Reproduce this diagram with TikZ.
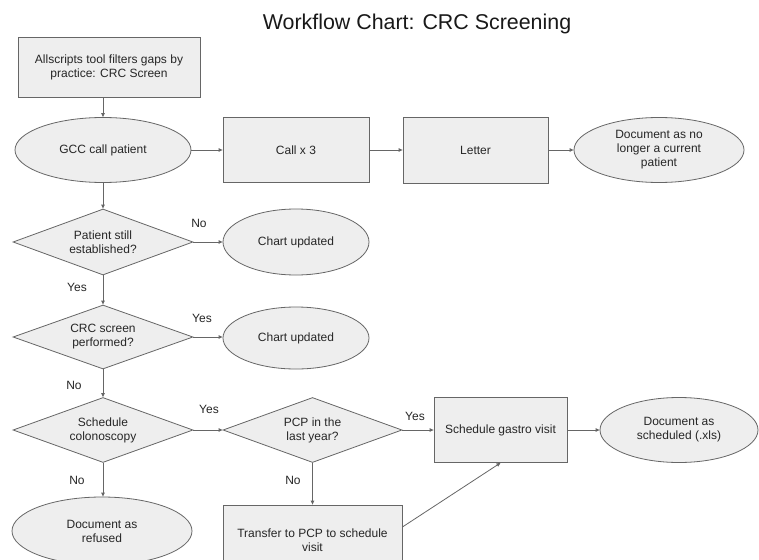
\documentclass[tikz,border=0pt]{standalone}
\usepackage{fontspec}
\setmainfont{Liberation Sans}
\usetikzlibrary{shapes.geometric,arrows.meta}
\definecolor{fillg}{HTML}{EEEEEE}
\definecolor{lineg}{HTML}{666666}
\begin{document}
\begin{tikzpicture}[x=1pt,y=-1pt,
  font=\fontsize{12}{14}\selectfont,
  base/.style={draw=lineg, fill=fillg, line width=0.8pt, align=center, inner sep=0pt, text=black!85},
  boxn/.style={base, rectangle},
  ell/.style={base, ellipse},
  dia/.style={base, diamond, aspect=2.77},
  conn/.style={draw=lineg, line width=0.8pt, -{Triangle[length=4pt,width=3.5pt]}},
  lab/.style={text=black!85}]
\path[use as bounding box] (0,0) rectangle (759,559);
\clip (0,0) rectangle (759,559);
\fill[white] (0,0) rectangle (759,559);

\node[text=black!90, anchor=base] (title) at (417,30) {\fontsize{21.4}{24}\selectfont Workflow Chart: CRC Screening};

\node[boxn, minimum width=182pt, minimum height=60pt] (box1) at (109,67) {Allscripts tool filters gaps by\\practice: CRC Screen};
\node[ell, minimum width=176pt, minimum height=65pt] (gcc) at (103,150) {GCC call patient};
\node[boxn, minimum width=146pt, minimum height=65pt] (call) at (296,150) {Call x 3};
\node[boxn, minimum width=145pt, minimum height=66pt] (letter) at (475.5,150) {Letter};
\node[ell, minimum width=170pt, minimum height=65pt] (docno) at (659,150) {Document as no\\longer a current\\patient};

\node[dia, minimum width=180pt, minimum height=66pt] (d1) at (103,242) {Patient still\\established?};
\node[ell, minimum width=146pt, minimum height=66pt] (chart1) at (296,242) {Chart updated};

\node[dia, minimum width=180pt, minimum height=64pt] (d2) at (103,337) {CRC screen\\performed?};
\node[ell, minimum width=146pt, minimum height=62pt] (chart2) at (296,338) {Chart updated};

\node[dia, minimum width=180pt, minimum height=65pt] (d3) at (103,430) {Schedule\\colonoscopy};
\node[dia, minimum width=179pt, minimum height=65pt] (d4) at (312.5,430) {PCP in the\\last year?};
\node[boxn, minimum width=133pt, minimum height=65pt] (gastro) at (500.5,430) {Schedule gastro visit};
\node[ell, minimum width=158pt, minimum height=65pt] (docs) at (679,430) {Document as\\scheduled (.xls)};

\node[boxn, minimum width=179pt, minimum height=70pt] (transfer) at (312.5,540) {Transfer to PCP to schedule\\visit};
\node[ell, minimum width=180pt, minimum height=68pt] (refused) at (102,531) {Document as\\refused};

\draw[conn] (gcc.north |- box1.south) -- (gcc.north);
\draw[conn] (gcc) -- (call);
\draw[conn] (call) -- (letter);
\draw[conn] (letter) -- (docno);
\draw[conn] (gcc) -- (d1);
\draw[conn] (d1) -- (chart1);
\draw[conn] (d1) -- (d2);
\draw[conn] (d2.east) -- (chart2.west |- d2.east);
\draw[conn] (d2) -- (d3);
\draw[conn] (d3) -- (d4);
\draw[conn] (d3.south) -- (refused.north -| d3.south);
\draw[conn] (d4) -- (gastro);
\draw[conn] (d4) -- (transfer);
\draw[conn] (gastro) -- (docs);
\draw[conn] ([yshift=13pt]transfer.east) -- (gastro.south);

\node[lab] (l1) at (199,223) {No};
\node[lab] (l2) at (77,287) {Yes};
\node[lab] (l3) at (202,318) {Yes};
\node[lab] (l4) at (74,385) {No};
\node[lab] (l5) at (209,409) {Yes};
\node[lab] (l6) at (77,480) {No};
\node[lab] (l7) at (293,480) {No};
\node[lab] (l8) at (415,416) {Yes};
\end{tikzpicture}
\end{document}
